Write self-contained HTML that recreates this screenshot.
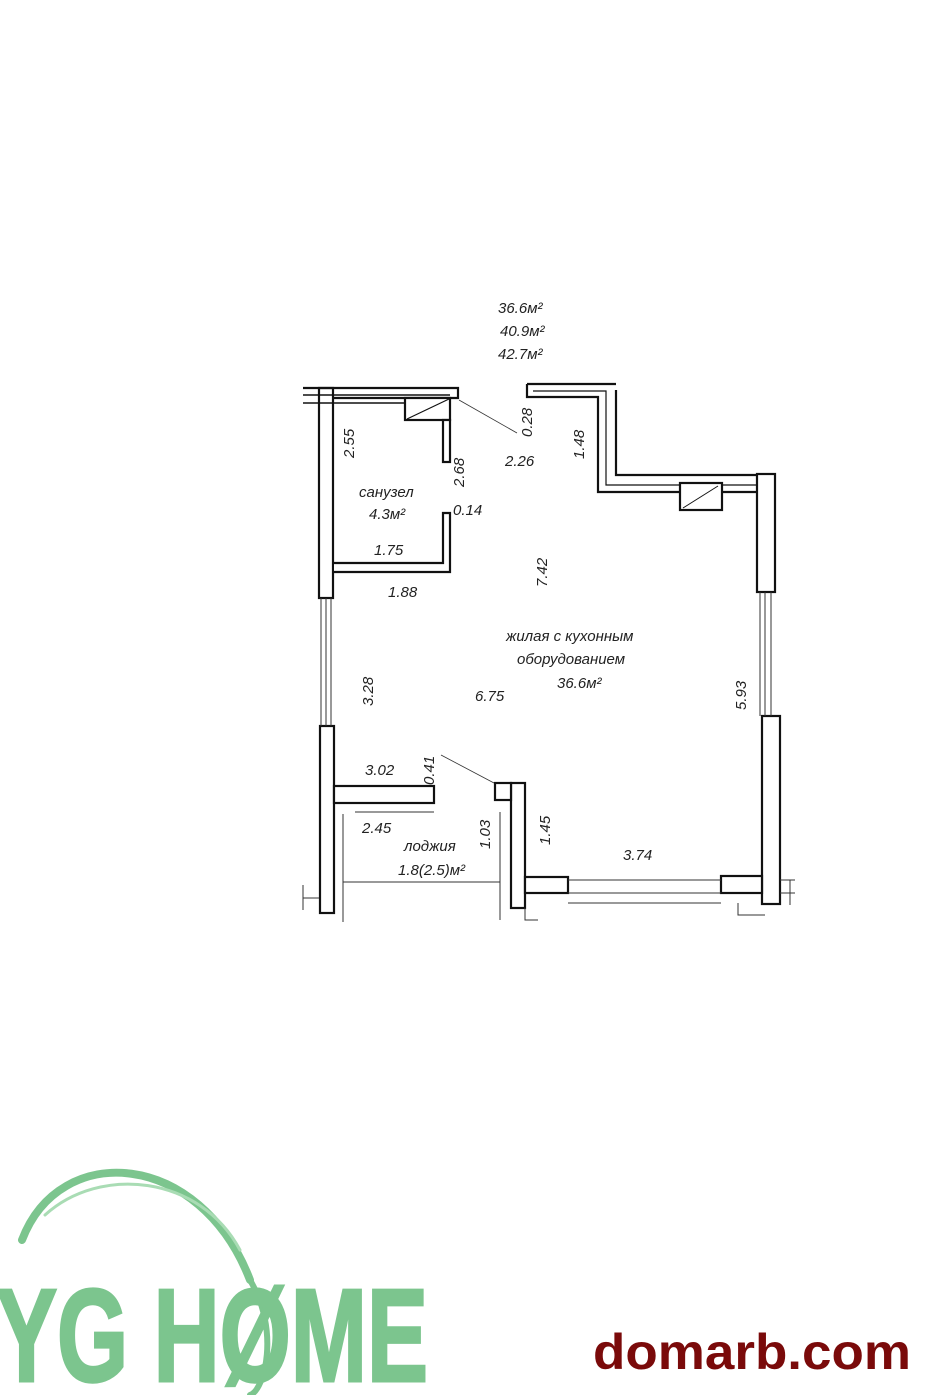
<!DOCTYPE html>
<html><head><meta charset="utf-8"><style>
body{margin:0;background:#fff}
svg{display:block}
text{font-family:"Liberation Sans",sans-serif;font-style:italic;font-size:15px;fill:#222}
</style></head><body>
<svg width="930" height="1395" viewBox="0 0 930 1395">
<g stroke="#111" stroke-width="2.2" fill="#fff">
<rect x="319" y="388" width="14" height="210"/>
<rect x="320" y="726" width="14" height="187"/>
<path d="M303 388 H458 V398 H333" fill="none"/>
<path d="M303 395 H450 M303 403 H405" fill="none" stroke-width="1.4"/>
<rect x="405" y="398" width="45" height="22"/>
<line x1="407" y1="419" x2="449" y2="399" stroke-width="1.2"/>
<rect x="443" y="420" width="7" height="42"/>
<path d="M334 563 H443 V513 H450 V572 H334" />
<path d="M527 384 H616 M527 384 V397 H598 V492 H757 M616 390 V475 H757" fill="none"/>
<path d="M533 391 H606 V485 H757" fill="none" stroke-width="1.2"/>
<rect x="680" y="483" width="42" height="27"/>
<line x1="683" y1="508" x2="718" y2="486" stroke-width="1"/>
<rect x="757" y="474" width="18" height="118"/>
<rect x="762" y="716" width="18" height="188"/>
<rect x="334" y="786" width="100" height="17"/>
<rect x="511" y="783" width="14" height="125"/>
<rect x="495" y="783" width="16" height="17"/>
<rect x="525" y="877" width="43" height="16"/>
<rect x="721" y="876" width="41" height="17"/>
</g>
<g stroke="#333" stroke-width="1" fill="none">
<path d="M321 598 V726 M326 598 V726 M331 598 V726"/>
<path d="M760 592 V716 M765 592 V716 M771 592 V716"/>
<path d="M568 880 H721 M568 893 H721 M568 903 H721"/>
<path d="M343 882 H500 M343 814 V922 M355 812 H434 M500 812 V920 M525 908 V920 H538 M303 885 V910 M303 898 H319 M790 880 V905 M780 880 H795 M780 893 H795 M738 903 V915 H765"/>
<line x1="459" y1="400" x2="517" y2="433" stroke-width="0.8"/>
<line x1="441" y1="755" x2="494" y2="783" stroke-width="0.8"/>
</g>
<text x="498" y="313">36.6м²</text>
<text x="500" y="336">40.9м²</text>
<text x="498" y="359">42.7м²</text>
<text x="359" y="497">санузел</text>
<text x="369" y="519">4.3м²</text>
<text x="453" y="515">0.14</text>
<text x="374" y="555">1.75</text>
<text x="388" y="597">1.88</text>
<text x="505" y="466">2.26</text>
<text x="506" y="641">жилая с кухонным</text>
<text x="517" y="664">оборудованием</text>
<text x="557" y="688">36.6м²</text>
<text x="475" y="701">6.75</text>
<text x="365" y="775">3.02</text>
<text x="362" y="833">2.45</text>
<text x="404" y="851">лоджия</text>
<text x="398" y="875">1.8(2.5)м²</text>
<text x="623" y="860">3.74</text>
<g>
<text transform="translate(354 458) rotate(-90)">2.55</text>
<text transform="translate(464 487) rotate(-90)">2.68</text>
<text transform="translate(532 437) rotate(-90)">0.28</text>
<text transform="translate(584 459) rotate(-90)">1.48</text>
<text transform="translate(547 587) rotate(-90)">7.42</text>
<text transform="translate(373 706) rotate(-90)">3.28</text>
<text transform="translate(434 785) rotate(-90)">0.41</text>
<text transform="translate(490 849) rotate(-90)">1.03</text>
<text transform="translate(550 845) rotate(-90)">1.45</text>
<text transform="translate(746 710) rotate(-90)">5.93</text>
</g>
<g fill="none" stroke="#7cc58e" stroke-linecap="round">
<path d="M22 1240 C60 1140 200 1150 250 1280" stroke-width="8"/>
<path d="M250 1280 C280 1330 265 1390 250 1395" stroke-width="6"/>
<path d="M45 1215 C100 1165 200 1175 240 1250" stroke-width="3" stroke="#a9dcb4"/>
</g>
<text x="-4" y="1381" style="font-style:normal;font-weight:bold;font-family:'Liberation Sans Narrow','Liberation Sans',sans-serif;font-size:132px;fill:#7cc58e;stroke:#7cc58e;stroke-width:3px" textLength="432" lengthAdjust="spacingAndGlyphs">YG HØME</text>
<text x="593" y="1369" style="font-style:normal;font-weight:bold;font-size:50px;fill:#7a0a0a" textLength="318" lengthAdjust="spacingAndGlyphs">domarb.com</text>
</svg>
</body></html>
